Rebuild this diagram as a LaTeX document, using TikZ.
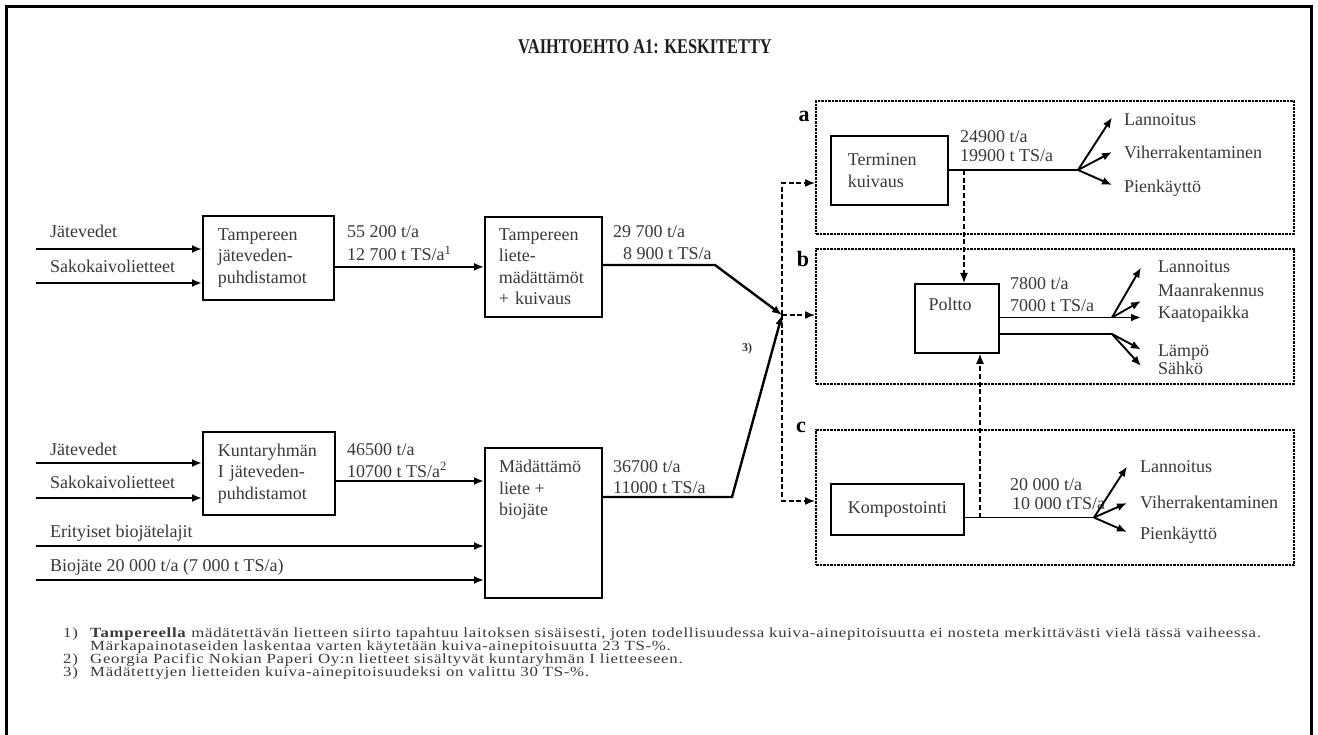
\documentclass[tikz,border=0pt]{standalone}
\usepackage{fontspec}
\setmainfont{Liberation Serif}
\newfontfamily\headfont[FakeStretch=0.78]{Liberation Serif}
\newfontfamily\notefont[FakeStretch=1.2,LetterSpace=5]{Liberation Serif}
\usetikzlibrary{arrows.meta}
\begin{document}
\begin{tikzpicture}[x=1pt,y=-1pt,
  txt/.style={font=\fontsize{18}{21.5}\selectfont, text=black!78, inner sep=0pt},
  lbl/.style={txt, anchor=base west},
  procbox/.style={draw=black, line width=1.8pt, rectangle, txt, align=left, anchor=north west, inner ysep=0pt},
  region/.style={draw=black, line width=2pt, dash pattern=on 2.5pt off 1pt, rectangle, inner sep=0pt, anchor=north west},
  flow/.style={draw=black, line width=2.4pt},
  branch/.style={draw=black, line width=1.9pt},
  dflow/.style={draw=black, line width=1.5pt, dash pattern=on 5pt off 2.7pt},
  tip/.style={-{Latex[length=10pt,width=8pt]}},
  tag/.style={font=\fontsize{22}{22}\selectfont\bfseries, inner sep=0pt},
  note/.style={font=\notefont\fontsize{14}{13}\selectfont, text=black!78, inner sep=0pt, anchor=base west}
]
\useasboundingbox (0,0) rectangle (1318,735);

% outer frame
\draw[line width=3pt] (6,735) -- (6,7) -- (1311,7) -- (1311,735);

% heading
\node[font=\headfont\fontsize{21}{21}\selectfont\bfseries, text=black!88, inner sep=0pt] (title) at (645,47) {VAIHTOEHTO A1: KESKITETTY};

% ---------- treatment plants ----------
\node[procbox, minimum width=131pt, minimum height=84pt, text width=101pt, inner xsep=15pt] (tjp) at (202,215) {Tampereen\\jäteveden-\\puhdistamot};
\node[procbox, minimum width=117pt, minimum height=100pt, text width=89pt, inner xsep=14pt] (tlm) at (484,216) {Tampereen\\liete-\\mädättämöt\\+ kuivaus};
\node[procbox, minimum width=132pt, minimum height=83pt, text width=102pt, inner xsep=15pt] (kjp) at (202,431) {Kuntaryhmän\\I jäteveden-\\puhdistamot};
\node[procbox, minimum width=117pt, minimum height=150pt] (mad) at (484,447) {};
\node[txt, align=left, anchor=north west] (madtxt) at (499,460) {Mädättämö\\liete +\\biojäte};

% input streams
\node[lbl] (j1) at (50,238) {Jätevedet};
\node[lbl] (k1) at (50,273) {Sakokaivolietteet};
\node[lbl] (j2) at (50,455) {Jätevedet};
\node[lbl] (k2) at (50,488) {Sakokaivolietteet};
\node[lbl] (eb) at (50,537) {Erityiset biojätelajit};
\node[lbl] (bj) at (50,571) {Biojäte 20 000 t/a (7 000 t TS/a)};

\coordinate (s1) at (36,249);
\coordinate (s2) at (36,283);
\coordinate (s3) at (36,463);
\coordinate (s4) at (36,498);
\coordinate (s5) at (36,546);
\coordinate (s6) at (36,580);
\draw[flow,tip] (s1) -- (s1 -| tjp.west);
\draw[flow,tip] (s2) -- (s2 -| tjp.west);
\draw[flow,tip] (s3) -- (s3 -| kjp.west);
\draw[flow,tip] (s4) -- (s4 -| kjp.west);
\draw[flow,tip] (s5) -- (s5 -| mad.west);
\draw[flow,tip] (s6) -- (s6 -| mad.west);

% quantities between plants
\node[lbl] (q1a) at (347,238) {55 200 t/a};
\node[lbl] (q1b) at (347,261) {12 700 t TS/a\textsuperscript{1}};
\node[lbl] (q2a) at (613,238) {29 700 t/a};
\node[lbl] (q2b) at (623,260) {8 900 t TS/a};
\node[lbl] (q3a) at (347,455) {46500 t/a};
\node[lbl] (q3b) at (347,477) {10700 t TS/a\textsuperscript{2}};
\node[lbl] (q4a) at (613,472) {36700 t/a};
\node[lbl] (q4b) at (613,493) {11000 t TS/a};

\draw[flow,tip] (tjp.east |- tlm.west) -- (tlm.west);
\coordinate (ky) at (0,481);
\draw[flow,tip] (kjp.east |- ky) -- (mad.west |- ky);

% collection point
\coordinate (J) at (782,315);
\coordinate (tb) at (715,265);
\coordinate (mb) at (732,497);
\draw[flow,tip] (tlm.east |- tb) -- (tb) -- (J);
\draw[flow,tip] (mad.east |- mb) -- (mb) -- (J);
\node[font=\fontsize{12}{12}\selectfont\bfseries, text=black!80, inner sep=0pt] (n3) at (747,349) {3)};

% ---------- alternatives a, b, c ----------
\node[region, minimum width=478pt, minimum height=133pt] (ra) at (815,100) {};
\node[region, minimum width=478pt, minimum height=135pt] (rb) at (815,248) {};
\node[region, minimum width=478pt, minimum height=135pt] (rc) at (815,429) {};
\node[tag] (ta_) at (804,116) {a};
\node[tag] (tb_) at (803,259) {b};
\node[tag] (tc_) at (801,427) {c};

\coordinate (ja) at (782,183);
\coordinate (jc) at (782,501);
\draw[dflow,tip] (J) -- (ja) -- (ja -| ra.west);
\draw[dflow,tip] (J) -- (J -| rb.west);
\draw[dflow,tip] (J) -- (jc) -- (jc -| rc.west);

% a: thermal drying
\node[procbox, minimum width=117pt, minimum height=69pt, text width=83pt, inner xsep=17pt] (term) at (830,135) {Terminen\\kuivaus};
\node[lbl] (qa1) at (960,143) {24900 t/a};
\node[lbl] (qa2) at (960,162) {19900 t TS/a};
\node[lbl] (aLt) at (1124,126) {Lannoitus};
\node[lbl] (aVt) at (1124,159) {Viherrakentaminen};
\node[lbl] (aPt) at (1124,193) {Pienkäyttö};
\coordinate (ba) at (1078,170);
\coordinate (aL) at (1112,117.5);
\coordinate (aV) at (1112,152);
\coordinate (aP) at (1112,185);
\draw[branch] (term.east |- ba) -- (ba);
\draw[branch,tip] (ba) -- (aL);
\draw[branch,tip] (ba) -- (aV);
\draw[branch,tip] (ba) -- (aP);

% b: incineration
\node[procbox, minimum width=84pt, minimum height=69pt] (poltto) at (914,283) {};
\node[txt] (poltxt) at (950,304) {Poltto};
\node[lbl] (qb1) at (1010,290) {7800 t/a};
\node[lbl] (qb2) at (1010,312) {7000 t TS/a};
\node[lbl] (bLt) at (1158,273) {Lannoitus};
\node[lbl] (bMt) at (1158,297) {Maanrakennus};
\node[lbl] (bKt) at (1158,319) {Kaatopaikka};
\node[lbl] (bLat) at (1158,357) {Lämpö};
\node[lbl] (bSt) at (1158,374) {Sähkö};
\coordinate (bb1) at (1112,317.5);
\coordinate (bK) at (1141,317.5);
\coordinate (bL) at (1141,267.5);
\coordinate (bM) at (1141,301);
\coordinate (bb2) at (1112,334);
\coordinate (bLa) at (1141,349.5);
\coordinate (bS) at (1141,366);
\draw[branch,tip] (poltto.east |- bK) -- (bK);
\draw[branch,tip] (bb1) -- (bL);
\draw[branch,tip] (bb1) -- (bM);
\draw[branch] (poltto.east |- bb2) -- (bb2);
\draw[branch,tip] (bb2) -- (bLa);
\draw[branch,tip] (bb2) -- (bS);

% c: composting
\node[procbox, minimum width=133pt, minimum height=51pt, align=center] (komp) at (830,483) {Kompostointi};
\node[lbl] (qc1) at (1010,490) {20 000 t/a};
\node[lbl] (qc2) at (1012,509) {10 000 tTS/a};
\node[lbl] (cLt) at (1140,472) {Lannoitus};
\node[lbl] (cVt) at (1140,508) {Viherrakentaminen};
\node[lbl] (cPt) at (1140,539) {Pienkäyttö};
\coordinate (cb) at (1094,517.5);
\coordinate (cL) at (1127,466.5);
\coordinate (cV) at (1127,503);
\coordinate (cP) at (1127,532);
\draw[branch] (komp.east |- cb) -- (cb);
\draw[branch,tip] (cb) -- (cL);
\draw[branch,tip] (cb) -- (cV);
\draw[branch,tip] (cb) -- (cP);

% residues routed to incineration
\coordinate (ta) at (964,170);
\coordinate (kb) at (980,517.5);
\draw[dflow,tip] (ta) -- (ta |- poltto.north);
\draw[dflow,tip] (kb) -- (kb |- poltto.south);

% ---------- footnotes ----------
\node[note] (f1n) at (63,637) {1)};
\node[note] (f1) at (90,637) {\textbf{Tampereella} mädätettävän lietteen siirto tapahtuu laitoksen sisäisesti, joten todellisuudessa kuiva-ainepitoisuutta ei nosteta merkittävästi vielä tässä vaiheessa.};
\node[note] (f1b) at (90,650) {Märkapainotaseiden laskentaa varten käytetään kuiva-ainepitoisuutta 23 TS-\%.};
\node[note] (f2n) at (63,663) {2)};
\node[note] (f2) at (90,663) {Georgia Pacific Nokian Paperi Oy:n lietteet sisältyvät kuntaryhmän I lietteeseen.};
\node[note] (f3n) at (63,676) {3)};
\node[note] (f3) at (90,676) {Mädätettyjen lietteiden kuiva-ainepitoisuudeksi on valittu 30 TS-\%.};
\end{tikzpicture}
\end{document}
